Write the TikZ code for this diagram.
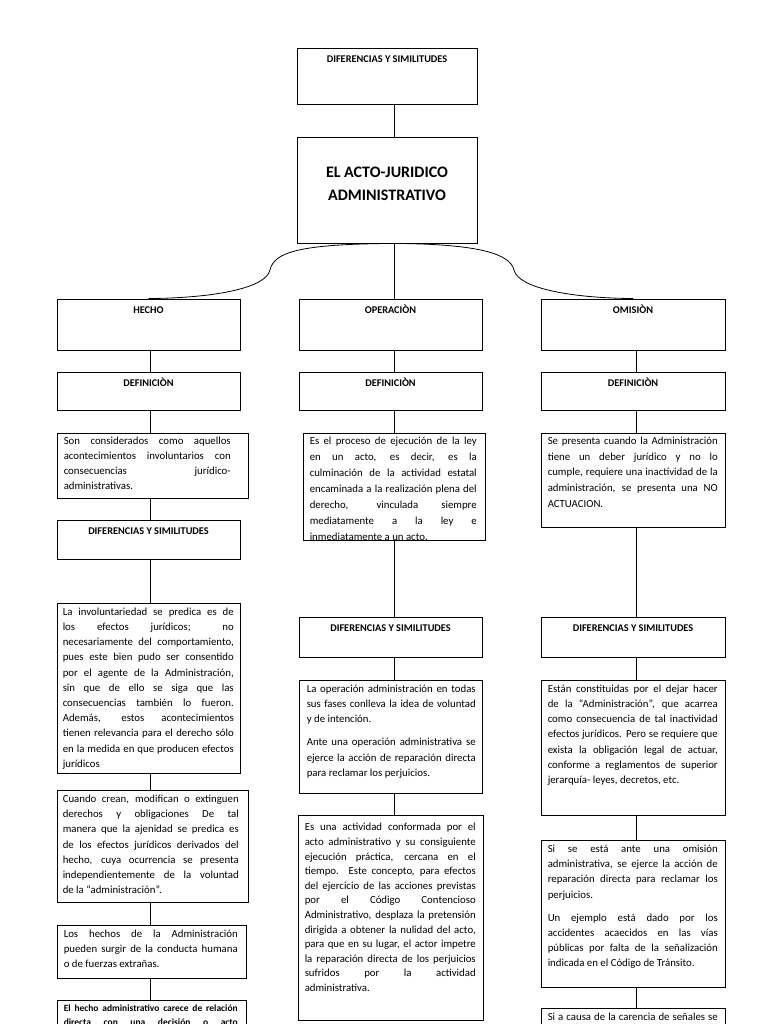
\documentclass[tikz,border=0pt]{standalone}
\usepackage{fontspec}
\setmainfont{Carlito}
\tolerance=10000
\hbadness=10000
\hyphenpenalty=10000

\tikzset{
  box/.style={draw, line width=0.9pt, rectangle, inner sep=0pt},
  title/.style={font=\bfseries\fontsize{10.3}{12}\selectfont, anchor=north, inner sep=0pt, yshift=-6pt, execute at begin node=\strut},
  txt/.style={font=\fontsize{10.8}{15.2}\selectfont, anchor=north west, inner sep=0pt, align=justify, xshift=7pt, yshift=-2pt, execute at begin node={\noindent\strut}},
  link/.style={line width=0.9pt},
  bracearc/.style={line width=0.8pt},
}

\begin{document}
\begin{tikzpicture}[x=1pt, y=-1pt]
  \useasboundingbox (0,0) rectangle (768,1024);
  \clip (0,0) rectangle (768,1024);

  % Column lines
  \coordinate (colL) at (150,0);
  \coordinate (colM) at (394,0);
  \coordinate (colR) at (636,0);

  % Define nodes: top
  \node (dif) [box, minimum width=180pt, minimum height=56pt] at (387,76) {};
  \node [title] at (dif.north) {DIFERENCIAS Y SIMILITUDES};
  \node (acto) [box, minimum width=180pt, minimum height=106pt] at (387,190) {};
  \node [font=\bfseries\fontsize{16}{23}\selectfont, align=center, yshift=6pt] at (acto.center) {EL ACTO-JURIDICO\\ADMINISTRATIVO};

  % Left column: hecho
  \node (hecho) [box, minimum width=183pt, minimum height=51pt] at (148.5,324.5) {};
  \node [title] at (hecho.north) {HECHO};
  \node (defH) [box, minimum width=183pt, minimum height=38pt] at (148.5,391) {};
  \node [title] at (defH.north) {DEFINICIÒN};
  \node (txtH) [box, minimum width=191pt, minimum height=65pt] at (152.5,465.5) {};
  \node [txt, text width=167pt, yshift=1pt] at (txtH.north west) {Son considerados como aquellos\linebreak acontecimientos involuntarios con\linebreak consecuencias jurídico-\linebreak administrativas.};
  \node (difH) [box, minimum width=183pt, minimum height=39pt] at (148.5,539.5) {};
  \node [title] at (difH.north) {DIFERENCIAS Y SIMILITUDES};
  \node (invH) [box, minimum width=183pt, minimum height=170pt] at (148.5,688) {};
  \node [txt, text width=171pt, xshift=-1pt] at (invH.north west) {La involuntariedad se predica es de\linebreak los efectos jurídicos; no\linebreak necesariamente del comportamiento,\linebreak pues este bien pudo ser consentido\linebreak por el agente de la Administración,\linebreak sin que de ello se siga que las\linebreak consecuencias también lo fueron.\linebreak Además, estos acontecimientos\linebreak tienen relevancia para el derecho sólo\linebreak en la medida en que producen efectos\linebreak jurídicos};
  \node (ajenH) [box, minimum width=191pt, minimum height=112pt] at (152.5,846) {};
  \node [txt, text width=176pt, xshift=-1pt] at (ajenH.north west) {Cuando crean, modifican o extinguen\linebreak derechos y obligaciones De tal\linebreak manera que la ajenidad se predica es\linebreak de los efectos jurídicos derivados del\linebreak hecho, cuya ocurrencia se presenta\linebreak independientemente de la voluntad\linebreak de la “administración”.};
  \node (orgH) [box, minimum width=189pt, minimum height=53pt] at (151.5,951.5) {};
  \node [txt, text width=174pt] at (orgH.north west) {Los hechos de la Administración\linebreak pueden surgir de la conducta humana\linebreak o de fuerzas extrañas.};
  \node (relH) [box, minimum width=189pt, minimum height=40pt] at (151.5,1020) {};
  \node [txt, text width=174pt, font=\bfseries\fontsize{9.5}{14}\selectfont] at (relH.north west) {El hecho administrativo carece de relación\linebreak directa con una decisión o acto\linebreak};

  % Middle column: operacion
  \node (operacion) [box, minimum width=183pt, minimum height=51pt] at (390.5,324.5) {};
  \node [title] at (operacion.north) {OPERACIÒN};
  \node (defO) [box, minimum width=183pt, minimum height=38pt] at (390.5,391) {};
  \node [title] at (defO.north) {DEFINICIÒN};
  \node (txtO) [box, minimum width=182pt, minimum height=107pt] at (394,486.5) {};
  \begin{scope}
    \clip (txtO.north west) rectangle (txtO.south east);
    \node [txt, text width=167pt, font=\fontsize{10.8}{16}\selectfont, yshift=1pt] at (txtO.north west) {Es el proceso de ejecución de la ley\linebreak en un acto, es decir, es la\linebreak culminación de la actividad estatal\linebreak encaminada a la realización plena del\linebreak derecho, vinculada siempre\linebreak mediatamente a la ley e\linebreak inmediatamente a un acto.};
  \end{scope}
  \node (difO) [box, minimum width=183pt, minimum height=40pt] at (390.5,637) {};
  \node [title] at (difO.north) {DIFERENCIAS Y SIMILITUDES};
  \node (volO) [box, minimum width=183pt, minimum height=113pt] at (390.5,736.5) {};
  \node [txt, text width=169pt, xshift=1pt] at (volO.north west) {La operación administración en todas\linebreak sus fases conlleva la idea de voluntad\linebreak y de intención.\par\vspace{8pt}\noindent\strut Ante una operación administrativa se\linebreak ejerce la acción de reparación directa\linebreak para reclamar los perjuicios.};
  \node (actO) [box, minimum width=185pt, minimum height=205pt] at (390.5,917.5) {};
  \node [txt, text width=171pt, yshift=-4pt, font=\fontsize{10.8}{14.6}\selectfont] at (actO.north west) {Es una actividad conformada por el\linebreak acto administrativo y su consiguiente\linebreak ejecución práctica, cercana en el\linebreak tiempo. Este concepto, para efectos\linebreak del ejercicio de las acciones previstas\linebreak por el Código Contencioso\linebreak Administrativo, desplaza la pretensión\linebreak dirigida a obtener la nulidad del acto,\linebreak para que en su lugar, el actor impetre\linebreak la reparación directa de los perjuicios\linebreak sufridos por la actividad\linebreak administrativa.};

  % Right column: omision
  \node (omision) [box, minimum width=184pt, minimum height=51pt] at (633,324.5) {};
  \node [title] at (omision.north) {OMISIÒN};
  \node (defM) [box, minimum width=184pt, minimum height=38pt] at (633,391) {};
  \node [title] at (defM.north) {DEFINICIÒN};
  \node (txtM) [box, minimum width=184pt, minimum height=94pt] at (633,480) {};
  \node [txt, text width=170pt, yshift=1pt, font=\fontsize{10.8}{15.6}\selectfont] at (txtM.north west) {Se presenta cuando la Administración\linebreak tiene un deber jurídico y no lo\linebreak cumple, requiere una inactividad de la\linebreak administración, se presenta una NO\linebreak ACTUACION.};
  \node (difM) [box, minimum width=184pt, minimum height=40pt] at (633,637) {};
  \node [title] at (difM.north) {DIFERENCIAS Y SIMILITUDES};
  \node (inaM) [box, minimum width=184pt, minimum height=135pt] at (633,747.5) {};
  \node [txt, text width=170pt] at (inaM.north west) {Están constituidas por el dejar hacer\linebreak de la “Administración”, que acarrea\linebreak como consecuencia de tal inactividad\linebreak efectos jurídicos. Pero se requiere que\linebreak exista la obligación legal de actuar,\linebreak conforme a reglamentos de superior\linebreak jerarquía- leyes, decretos, etc.};
  \node (repM) [box, minimum width=184pt, minimum height=147pt] at (633,913.5) {};
  \node [txt, text width=170pt] at (repM.north west) {Si se está ante una omisión\linebreak administrativa, se ejerce la acción de\linebreak reparación directa para reclamar los\linebreak perjuicios.\par\vspace{8pt}\noindent\strut Un ejemplo está dado por los\linebreak accidentes acaecidos en las vías\linebreak públicas por falta de la señalización\linebreak indicada en el Código de Tránsito.};
  \node (senM) [box, minimum width=184pt, minimum height=32pt] at (633,1024) {};
  \node [txt, text width=170pt] at (senM.north west) {Si a causa de la carencia de señales se\linebreak};

  % Draw edges: top
  \draw [link] (dif.south -| colM) -- (acto.north -| colM);
  \draw [link] (acto.south -| colM) -- (operacion.north -| colM);
  \draw [bracearc] (acto.south -| colM) .. controls (300,244) and (274,252) .. (270,270)
    .. controls (266,288) and (215,298) .. (hecho.north);
  \draw [bracearc] (acto.south -| colM) .. controls (480,244) and (510,254) .. (514,270)
    .. controls (518,288) and (570,298) .. (omision.north);

  % Draw edges: left column
  \draw [link] (hecho.south -| colL) -- (defH.north -| colL);
  \draw [link] (defH.south -| colL) -- (txtH.north -| colL);
  \draw [link] (txtH.south -| colL) -- (difH.north -| colL);
  \draw [link] (difH.south -| colL) -- (invH.north -| colL);
  \draw [link] (invH.south -| colL) -- (ajenH.north -| colL);
  \draw [link] (ajenH.south -| colL) -- (orgH.north -| colL);
  \draw [link] (orgH.south -| colL) -- (relH.north -| colL);

  % Draw edges: middle column
  \draw [link] (operacion.south -| colM) -- (defO.north -| colM);
  \draw [link] (defO.south -| colM) -- (txtO.north -| colM);
  \draw [link] (txtO.south -| colM) -- (difO.north -| colM);
  \draw [link] (difO.south -| colM) -- (volO.north -| colM);
  \draw [link] (volO.south -| colM) -- (actO.north -| colM);

  % Draw edges: right column
  \draw [link] (omision.south -| colR) -- (defM.north -| colR);
  \draw [link] (defM.south -| colR) -- (txtM.north -| colR);
  \draw [link] (txtM.south -| colR) -- (difM.north -| colR);
  \draw [link] (difM.south -| colR) -- (inaM.north -| colR);
  \draw [link] (inaM.south -| colR) -- (repM.north -| colR);
  \draw [link] (repM.south -| colR) -- (senM.north -| colR);
\end{tikzpicture}
\end{document}
